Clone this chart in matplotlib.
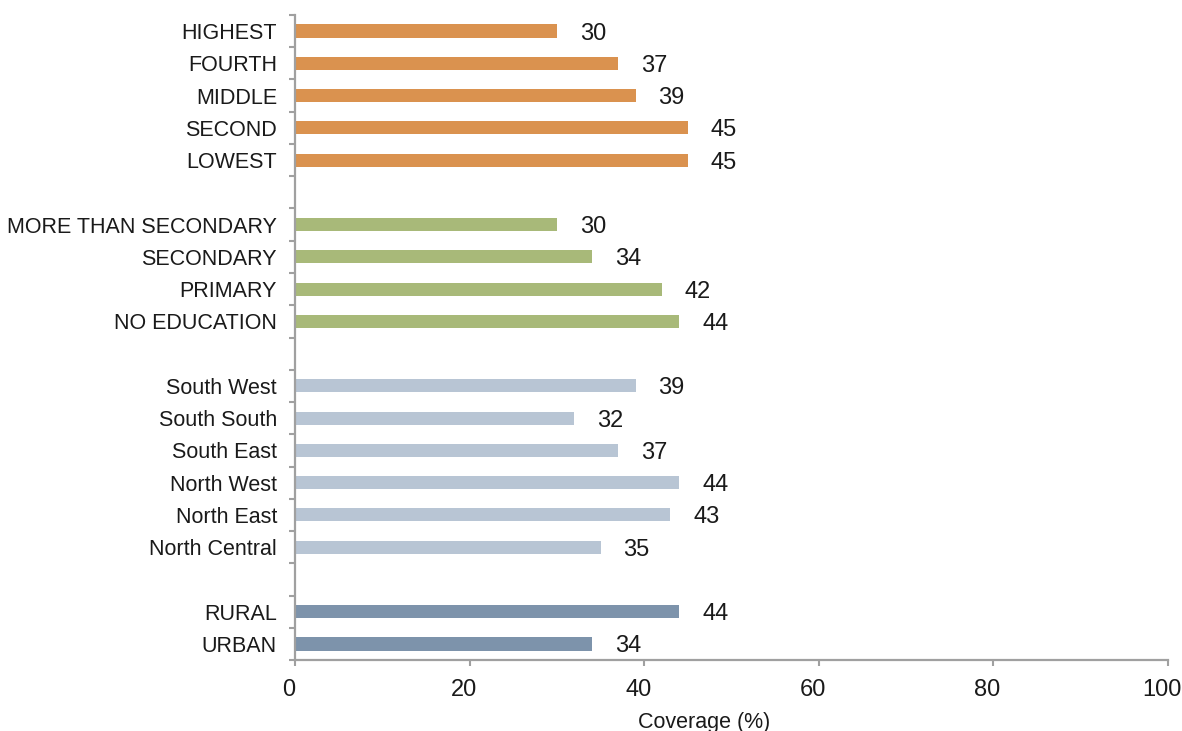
import matplotlib
matplotlib.use('Agg')
import matplotlib.pyplot as plt
import matplotlib.transforms as mtransforms
import numpy as np

plt.rcParams['font.family'] = ['Liberation Sans', 'DejaVu Sans']

# groups listed bottom -> top
residence = ['URBAN', 'RURAL']
residence_vals = [34, 44]
zones = ['North Central', 'North East', 'North West', 'South East', 'South South', 'South West']
zone_vals = [35, 43, 44, 37, 32, 39]
education = ['NO EDUCATION', 'PRIMARY', 'SECONDARY', 'MORE THAN SECONDARY']
education_vals = [44, 42, 34, 30]
wealth = ['LOWEST', 'SECOND', 'MIDDLE', 'FOURTH', 'HIGHEST']
wealth_vals = [45, 45, 39, 37, 30]

groups = [
    (residence, residence_vals, '#7D93AB'),
    (zones, zone_vals, '#B8C5D4'),
    (education, education_vals, '#A8B979'),
    (wealth, wealth_vals, '#DA924F'),
]

fig = plt.figure(figsize=(11.82, 7.31), dpi=100)
ax = fig.add_axes([0.2496, 0.0971, 0.7386, 0.8824])

pos = 0
ticks, ticklabels = [], []
for names, vals, col in groups:
    y = np.arange(pos, pos + len(names))
    ax.barh(y, vals, height=0.41, color=col, edgecolor='none')
    for yy, v in zip(y, vals):
        ax.annotate(str(v), (v, yy), xytext=(16.5, 0), textcoords='offset points',
                    va='center_baseline', ha='left', fontsize=17, color='#1a1a1a')
    ticks += list(y)
    ticklabels += names
    pos += len(names) + 1
n_slots = pos - 1

ax.set_ylim(-0.5, n_slots - 0.5)
ax.set_xlim(0, 100)
ax.set_yticks(ticks)
ax.set_yticklabels(ticklabels, fontsize=15.5, color='#1a1a1a')
ax.set_yticks(np.arange(-0.5, n_slots, 1.0), minor=True)
ax.tick_params(axis='y', which='major', length=0, pad=13)
ax.tick_params(axis='y', which='minor', length=4.5, width=1.5, color='#A0A0A0', direction='out')
ax.set_xticks(np.arange(0, 101, 20))
ax.tick_params(axis='x', length=4.5, width=1.5, color='#A0A0A0', direction='out', pad=9.5,
               labelsize=17, labelcolor='#1a1a1a')

# excel puts the x labels a touch left of the ticks
shift = mtransforms.ScaledTranslation(-6 / 100, 0, fig.dpi_scale_trans)
for lab in ax.get_xticklabels():
    lab.set_transform(lab.get_transform() + shift)

for s in ['top', 'right']:
    ax.spines[s].set_visible(False)
for s in ['left', 'bottom']:
    ax.spines[s].set_color('#A0A0A0')
    ax.spines[s].set_linewidth(1.6)

fig.text(704 / 1182, 1 - 728 / 731, 'Coverage (%)', ha='center', va='baseline',
         fontsize=15.5, color='#1a1a1a')

fig.savefig('out.png', dpi=100)
